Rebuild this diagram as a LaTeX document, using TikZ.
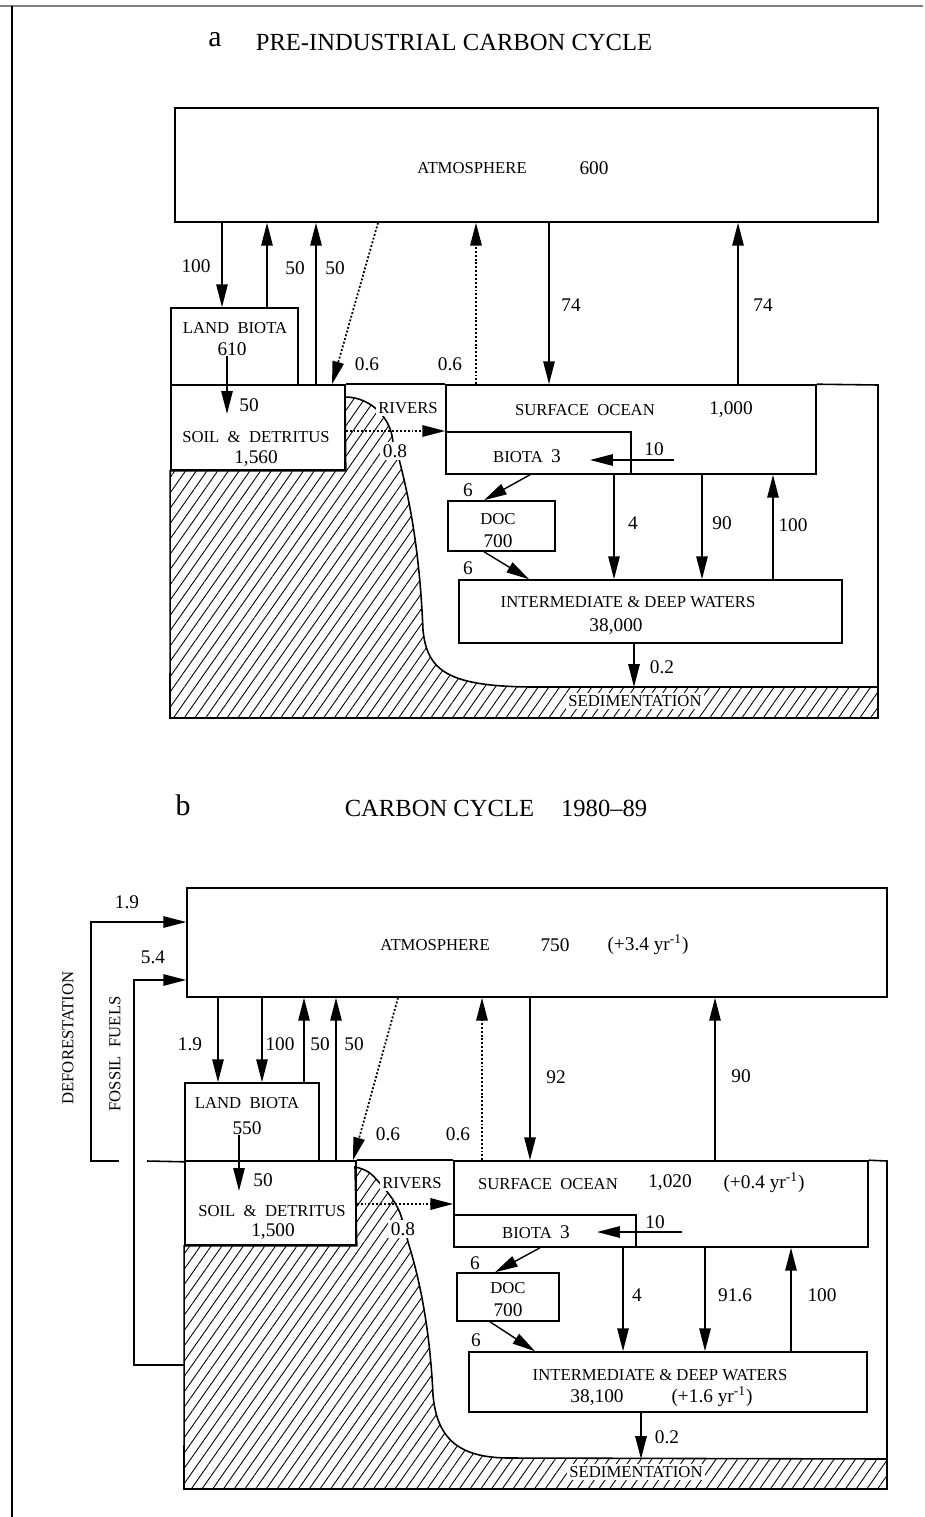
\documentclass[tikz,border=0pt]{standalone}
\usepackage{fontspec}
\setmainfont{Liberation Serif}
\usetikzlibrary{arrows.meta,patterns.meta}

\tikzset{
  pool/.style 2 args={draw, line width=0.9pt, minimum width=#1*0.02cm,
    minimum height=#2*0.02cm, inner sep=0pt},
  tag/.style={font=\fontsize{9.5}{11}\selectfont, inner sep=0pt},
  num/.style={font=\fontsize{11}{13}\selectfont, inner sep=0pt},
  cut/.style={fill=white, inner sep=1.5pt},
  heading/.style={font=\fontsize{14}{16}\selectfont},
  panel/.style={font=\fontsize{17}{19}\selectfont},
  flow/.style={line width=0.8pt, -{Triangle[length=13pt,width=6.5pt]}},
  trace/.style={flow, line width=1pt, dash pattern=on 1.1pt off 1.1pt},
  rim/.style={line width=0.9pt, line join=miter},
  soil/.style={pattern={Lines[angle=55,distance=5pt,line width=0.5pt]}}
}

\begin{document}
\begin{tikzpicture}[x=0.02cm,y=-0.02cm]
  \useasboundingbox (0,0) rectangle (925,1517);
  % page rules
  \draw[gray, line width=1.1pt] (0,6) -- (923,6);
  \draw[line width=0.8pt] (12,6) -- (12,1517);

  % ---------------- a ----------------
  \node[panel] (labA) at (215,40) {a};
  \node[heading] (headA) at (454,42) {PRE-INDUSTRIAL CARBON CYCLE};

  \node[pool={703}{114}] (atmA) at (526.5,165) {};
  \node[pool={127}{77}] (landA) at (234.5,346.5) {};
  \node[pool={174}{85}] (soilA) at (258,427.5) {};
  \node[pool={370}{89}] (surfA) at (631,429.5) {};
  \node[pool={185}{42}] (biotaA) at (538.5,453) {};
  \node[pool={107}{50}] (docA) at (501.5,526) {};
  \node[pool={383}{63}] (deepA) at (650.5,611.5) {};

  % land and sediment
  \draw[rim, soil] (soilA.south east) -- (345,397)
    .. controls (372,397) and (393,420) .. (393,445)
    .. controls (396,452) and (399,457) .. (400,463)
    .. controls (412,510) and (420,560) .. (423,630)
    .. controls (427,672) and (450,686) .. (530,687)
    -- (878,687) coordinate (sedA) -- (878,718) -- (170,718)
    -- (soilA.south west) -- cycle;
  \draw[rim] (soilA.north east) -- (surfA.north west);
  \draw[rim] (surfA.north east) -- (878,385) -- (sedA);

  \node[tag] (tAtmA) at (472,168) {ATMOSPHERE};
  \node[num] (nAtmA) at (594,168) {600};
  \node[tag] (tLandA) at (235,328) {LAND~~BIOTA};
  \node[num] (nLandA) at (232,349) {610};
  \node[tag] (tSoilA) at (256,437) {SOIL~~\&~~DETRITUS};
  \node[num] (nSoilA) at (256,459) {1,560};
  \node[tag] (tSurfA) at (585,410) {SURFACE~~OCEAN};
  \node[num] (nSurfA) at (731,410) {1,000};
  \node[tag] (tBiotaA) at (527,456) {BIOTA~~\fontsize{11}{13}\selectfont 3};
  \node[tag] (tDocA) at (498,519) {DOC};
  \node[num] (nDocA) at (498,541) {700};
  \node[tag] (tDeepA) at (628,602) {INTERMEDIATE \& DEEP WATERS};
  \node[num] (nDeepA) at (616,627) {38,000};
  \node[tag, cut] (tRivA) at (408,408) {RIVERS};
  \node[tag, cut] (tSedA) at (635,701) {SEDIMENTATION};

  % fluxes
  \draw[flow] (atmA.south -| 222,0) -- (landA.north -| 222,0);
  \draw[flow] (landA.north -| 267,0) -- (atmA.south -| 267,0);
  \draw[flow] (soilA.north -| 316,0) -- (atmA.south -| 316,0);
  \draw[trace] (atmA.south -| 378,0) -- (soilA.north -| 332,0);
  \draw[trace] (surfA.north -| 476,0) -- (atmA.south -| 476,0);
  \draw[flow] (atmA.south -| 549,0) -- (surfA.north -| 549,0);
  \draw[flow] (surfA.north -| 738,0) -- (atmA.south -| 738,0);
  \draw[flow] (nLandA.south -| 227,0) -- ++(0,58);
  \draw[trace] (soilA.east |- 0,431) -- (surfA.west |- 0,431);
  \coordinate (tenA) at (674,460);
  \draw[flow] (tenA) -- (tenA -| 590,0);
  \draw[flow] (biotaA.south -| 530,0) -- (docA.north -| 484,0);
  \draw[flow] (docA.south -| 484,0) -- (deepA.north -| 529,0);
  \draw[flow] (surfA.south -| 614,0) -- (deepA.north -| 614,0);
  \draw[flow] (surfA.south -| 702,0) -- (deepA.north -| 702,0);
  \draw[flow] (deepA.north -| 773,0) -- (surfA.south -| 773,0);
  \draw[flow] (deepA.south -| 634,0) -- (sedA -| 634,0);

  \node[num] (fA1) at (196,266) {100};
  \node[num] (fA2) at (295,268) {50};
  \node[num] (fA3) at (335,268) {50};
  \node[num] (fA4) at (367,364) {0.6};
  \node[num] (fA5) at (450,364) {0.6};
  \node[num] (fA6) at (571,305) {74};
  \node[num] (fA7) at (763,305) {74};
  \node[num] (fA8) at (249,405) {50};
  \node[num, cut] (fA9) at (395,451) {0.8};
  \node[num] (fA10) at (654,449) {10};
  \node[num] (fA11) at (468,490) {6};
  \node[num] (fA12) at (468,568) {6};
  \node[num] (fA13) at (633,523) {4};
  \node[num] (fA14) at (722,523) {90};
  \node[num] (fA15) at (793,525) {100};
  \node[num] (fA16) at (662,667) {0.2};

  % ---------------- b ----------------
  \node[panel] (labB) at (183,805) {b};
  \node[heading] (headB) at (496,808) {CARBON CYCLE\hspace{1.1em}1980--89};

  \node[pool={700}{109}] (atmB) at (537,942.5) {};
  \node[pool={134}{78}] (landB) at (252,1122) {};
  \node[pool={171}{84}] (soilB) at (270.5,1203) {};
  \node[pool={414}{86}] (surfB) at (661,1204) {};
  \node[pool={182}{32}] (biotaB) at (545,1231) {};
  \node[pool={102}{48}] (docB) at (508,1297) {};
  \node[pool={398}{60}] (deepB) at (668,1382) {};

  % land and sediment
  \draw[rim, soil] (soilB.south east) -- (355,1167)
    .. controls (366,1169) and (372,1174) .. (377,1180)
    .. controls (385,1189) and (395,1200) .. (400,1213)
    .. controls (404,1224) and (406,1233) .. (408,1242)
    .. controls (420,1280) and (430,1330) .. (433,1395)
    .. controls (437,1440) and (460,1458) .. (510,1458)
    -- (887,1459) coordinate (sedB) -- (887,1489) -- (184,1489)
    -- (soilB.south west) -- cycle;
  \draw[rim] (147,1161) -- (landB.south west);
  \draw[rim] (soilB.north east) -- (surfB.north west);
  \draw[rim] (surfB.north east) -- (887,1161) -- (sedB);

  \node[tag] (tAtmB) at (435,945) {ATMOSPHERE};
  \node[num] (nAtmB) at (555,945) {750};
  \node[num] (rAtmB) at (648,945) {(+3.4 yr\textsuperscript{-1})};
  \node[tag] (tLandB) at (247,1103) {LAND~~BIOTA};
  \node[num] (nLandB) at (247,1128) {550};
  \node[tag] (tSoilB) at (272,1211) {SOIL~~\&~~DETRITUS};
  \node[num] (nSoilB) at (273,1232) {1,500};
  \node[tag] (tSurfB) at (548,1184) {SURFACE~~OCEAN};
  \node[num] (nSurfB) at (670,1183) {1,020};
  \node[num] (rSurfB) at (764,1183) {(+0.4 yr\textsuperscript{-1})};
  \node[tag] (tBiotaB) at (536,1232) {BIOTA~~\fontsize{11}{13}\selectfont 3};
  \node[tag] (tDocB) at (508,1288) {DOC};
  \node[num] (nDocB) at (508,1310) {700};
  \node[tag] (tDeepB) at (660,1375) {INTERMEDIATE \& DEEP WATERS};
  \node[num] (nDeepB) at (597,1398) {38,100};
  \node[num] (rDeepB) at (712,1397) {(+1.6 yr\textsuperscript{-1})};
  \node[tag, cut] (tRivB) at (412,1183) {RIVERS};
  \node[tag, cut] (tSedB) at (636,1472) {SEDIMENTATION};
  \node[tag, rotate=90] (tDefB) at (68,1038) {DEFORESTATION};
  \node[tag, rotate=90] (tFosB) at (115,1054) {FOSSIL~~FUELS};

  % fluxes
  \coordinate (defB) at (119,1161);
  \coordinate (fosB) at (184,1365);
  \draw[flow] (defB) -- ++(-28,0) |- (atmB.west |- 0,922);
  \draw[flow] (fosB) -- ++(-50,0) |- (atmB.west |- 0,980);
  \draw[flow] (atmB.south -| 218,0) -- (landB.north -| 218,0);
  \draw[flow] (atmB.south -| 262,0) -- (landB.north -| 262,0);
  \draw[flow] (landB.north -| 304,0) -- (atmB.south -| 304,0);
  \draw[flow] (soilB.north -| 336,0) -- (atmB.south -| 336,0);
  \draw[trace] (atmB.south -| 398,0) -- (soilB.north -| 353,0);
  \draw[trace] (surfB.north -| 482,0) -- (atmB.south -| 482,0);
  \draw[flow] (atmB.south -| 530,0) -- (surfB.north -| 530,0);
  \draw[flow] (surfB.north -| 715,0) -- (atmB.south -| 715,0);
  \draw[flow] (nLandB.south -| 239,0) -- ++(0,56);
  \draw[trace] (soilB.east |- 0,1204) -- (surfB.west |- 0,1204);
  \coordinate (tenB) at (682,1232);
  \draw[flow] (tenB) -- (tenB -| 597,0);
  \draw[flow] (biotaB.south -| 540,0) -- (docB.north -| 495,0);
  \draw[flow] (docB.south -| 490,0) -- (deepB.north -| 535,0);
  \draw[flow] (surfB.south -| 623,0) -- (deepB.north -| 623,0);
  \draw[flow] (surfB.south -| 705,0) -- (deepB.north -| 705,0);
  \draw[flow] (deepB.north -| 791,0) -- (surfB.south -| 791,0);
  \draw[flow] (deepB.south -| 641,0) -- (sedB -| 641,0);

  \node[num] (fB1) at (127,902) {1.9};
  \node[num] (fB2) at (153,957) {5.4};
  \node[num] (fB3) at (190,1044) {1.9};
  \node[num] (fB4) at (280,1044) {100};
  \node[num] (fB5) at (320,1044) {50};
  \node[num] (fB6) at (354,1044) {50};
  \node[num] (fB7) at (556,1077) {92};
  \node[num] (fB8) at (741,1076) {90};
  \node[num] (fB9) at (388,1134) {0.6};
  \node[num] (fB10) at (458,1134) {0.6};
  \node[num] (fB11) at (263,1180) {50};
  \node[num, cut] (fB12) at (403,1229) {0.8};
  \node[num] (fB13) at (655,1222) {10};
  \node[num] (fB14) at (475,1263) {6};
  \node[num] (fB15) at (476,1340) {6};
  \node[num] (fB16) at (637,1295) {4};
  \node[num] (fB17) at (735,1295) {91.6};
  \node[num] (fB18) at (822,1295) {100};
  \node[num] (fB19) at (667,1437) {0.2};
\end{tikzpicture}
\end{document}
